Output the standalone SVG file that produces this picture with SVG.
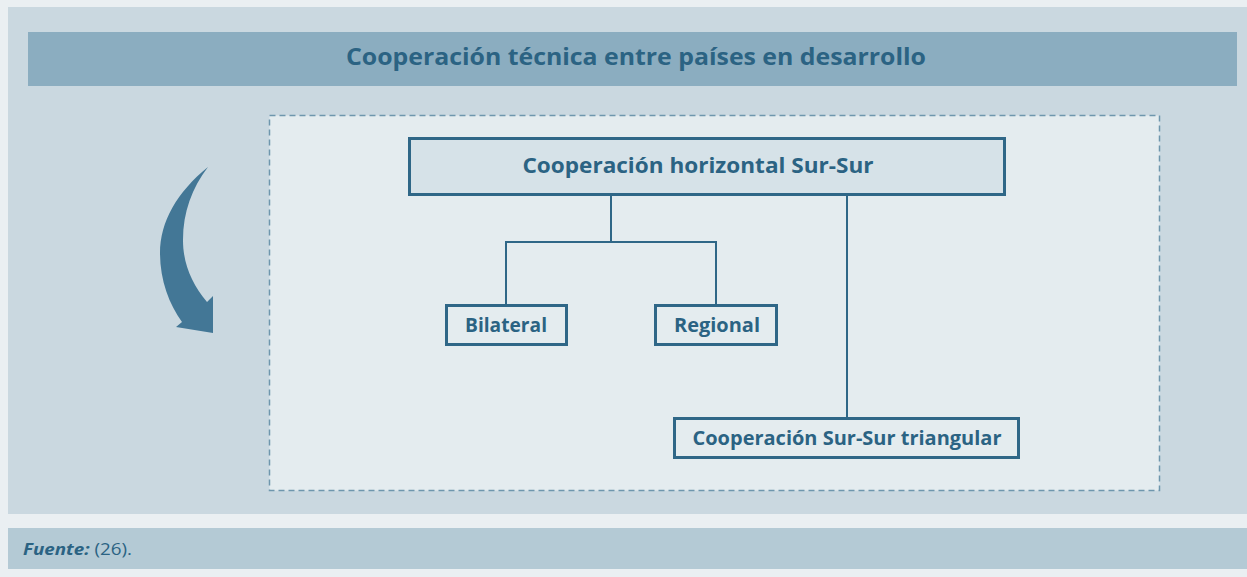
<svg xmlns="http://www.w3.org/2000/svg" width="1247" height="577" viewBox="0 0 1247 577">
<style>
.t{font-family:"Open Sans","Liberation Sans",sans-serif;font-weight:bold;fill:#2b6383;}
.node{fill:#e4ecef;stroke:#2f6787;stroke-width:3;}
.conn{fill:none;stroke:#2f6787;stroke-width:2;}
</style>
<rect x="0" y="0" width="1247" height="577" fill="#eaeff2"/>
<rect x="8" y="7" width="1239" height="507" fill="#cad8e0"/>
<g id="header">
<rect x="28" y="32" width="1209" height="54" fill="#8badc0"/>
<text class="t" x="636" y="65" font-size="24" text-anchor="middle" textLength="580" lengthAdjust="spacingAndGlyphs">Cooperación técnica entre países en desarrollo</text>
</g>
<rect x="269.5" y="115.5" width="890" height="375" fill="#e4ecef" stroke="#6e96ad" stroke-width="1.5" stroke-dasharray="6,4"/>
<g id="arrow">
<path d="M208,167 C177,192 160,222 160,253 C160,280 169,304 182,322 L176,327 L213,333 L213,296 L207,302 C192,284 183,264 183,240 C183,212 192,188 208,167 Z" fill="#437796"/>
</g>
<g id="connectors">
<path class="conn" d="M611,194 V242 M506,242 H716 M506,241 V305 M716,241 V305 M847,194 V418"/>
</g>
<g id="n-top">
<rect class="node" x="409.5" y="138.5" width="595" height="56" style="fill:#d6e2e8"/>
<text class="t" x="698" y="173" font-size="22" text-anchor="middle" textLength="351" lengthAdjust="spacingAndGlyphs">Cooperación horizontal Sur-Sur</text>
</g>
<g id="n-bilateral">
<rect class="node" x="446.5" y="305.5" width="120" height="39"/>
<text class="t" x="506" y="332" font-size="20" text-anchor="middle" textLength="82" lengthAdjust="spacingAndGlyphs">Bilateral</text>
</g>
<g id="n-regional">
<rect class="node" x="655.5" y="305.5" width="121" height="39"/>
<text class="t" x="717" y="332" font-size="20" text-anchor="middle" textLength="86" lengthAdjust="spacingAndGlyphs">Regional</text>
</g>
<g id="n-triangular">
<rect class="node" x="674.5" y="418.5" width="344" height="39"/>
<text class="t" x="847" y="445" font-size="20" text-anchor="middle" textLength="309" lengthAdjust="spacingAndGlyphs">Cooperación Sur-Sur triangular</text>
</g>
<g id="footer">
<rect x="8" y="528" width="1239" height="41" fill="#b4cad5"/>
<text x="23" y="555" font-size="16" font-family="'Open Sans','Liberation Sans',sans-serif" fill="#2b6383" textLength="109" lengthAdjust="spacingAndGlyphs"><tspan font-weight="bold" font-style="italic">Fuente:</tspan> (26).</text>
</g>
</svg>
